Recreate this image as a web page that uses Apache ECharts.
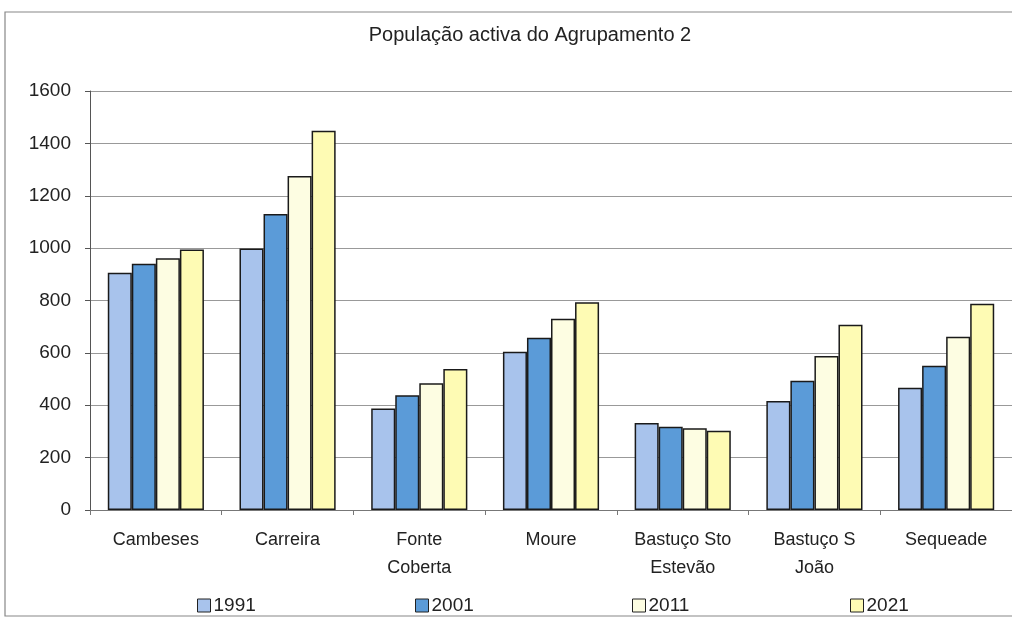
<!DOCTYPE html>
<html>
<head>
<meta charset="utf-8">
<script src="https://cdn.jsdelivr.net/npm/echarts@6/dist/echarts.min.js"></script>
<style>html,body{margin:0;padding:0;background:#fff}#c{width:1012px;height:621px}</style>
</head>
<body>
<div id="c"></div>
<script>
const categories = ['Cambeses', 'Carreira', 'Fonte\nCoberta', 'Moure', 'Bastuço Sto\nEstevão', 'Bastuço S\nJoão', 'Sequeade'];
const years = ['1991', '2001', '2011', '2021'];
const v1991 = [906, 999, 388, 604, 332, 416, 467];
const v2001 = [940, 1130, 438, 658, 318, 494, 551];
const v2011 = [961, 1275, 484, 730, 312, 588, 662];
const v2021 = [995, 1448, 538, 793, 303, 707, 788];
const yTicks = [0, 200, 400, 600, 800, 1000, 1200, 1400, 1600];

const colors = ['#a8c3ec', '#5b9bd8', '#fdfde2', '#fefbb4'];
const seriesData = [v1991, v2001, v2011, v2021];
const font = '"Liberation Sans", Arial, sans-serif';

const chart = echarts.init(document.getElementById('c'));
const legendLefts = [192, 410, 627, 845];
chart.setOption({
  animation: false,
  title: {
    text: 'População activa do Agrupamento 2',
    left: 525, top: 20, textAlign: 'center',
    textStyle: { fontFamily: font, fontSize: 20, fontWeight: 'normal', color: '#222' }
  },
  legend: years.map((y, i) => ({
    data: [y], left: legendLefts[i], top: 591,
    icon: 'rect', itemWidth: 13, itemHeight: 13, itemGap: 4,
    textStyle: { fontFamily: font, fontSize: 19, color: '#222', padding: [0,0,0,-2] },
    itemStyle: { borderColor: '#222', borderWidth: 1 }
  })),
  graphic: [{
    type: 'rect', shape: { x: 5, y: 12, width: 1015, height: 604 },
    style: { fill: 'none', stroke: '#888', lineWidth: 1.2 }, silent: true, z: -1
  }],
  grid: { left: 90, right: -2, top: 91, bottom: 111, containLabel: false },
  xAxis: {
    type: 'category', data: categories,
    axisLine: { lineStyle: { color: '#777' } },
    axisTick: { show: true, length: 5, lineStyle: { color: '#777' } },
    axisLabel: { fontFamily: font, fontSize: 18, color: '#222', lineHeight: 28, margin: 16, interval: 0 }
  },
  yAxis: {
    type: 'value', min: 0, max: 1600, interval: 200,
    axisLine: { show: true, lineStyle: { color: '#555' } },
    axisTick: { show: true, length: 5, lineStyle: { color: '#555' } },
    axisLabel: { fontFamily: font, fontSize: 19, color: '#222', margin: 19, formatter: v => String(v) },
    splitLine: { lineStyle: { color: '#999' } }
  },
  series: years.map((y, i) => ({
    name: y, type: 'bar', data: seriesData[i],
    barGap: '0%', barCategoryGap: '27%',
    itemStyle: { color: colors[i], borderColor: '#1a1a1a', borderWidth: 1.5 }
  }))
});
</script>
</body>
</html>
